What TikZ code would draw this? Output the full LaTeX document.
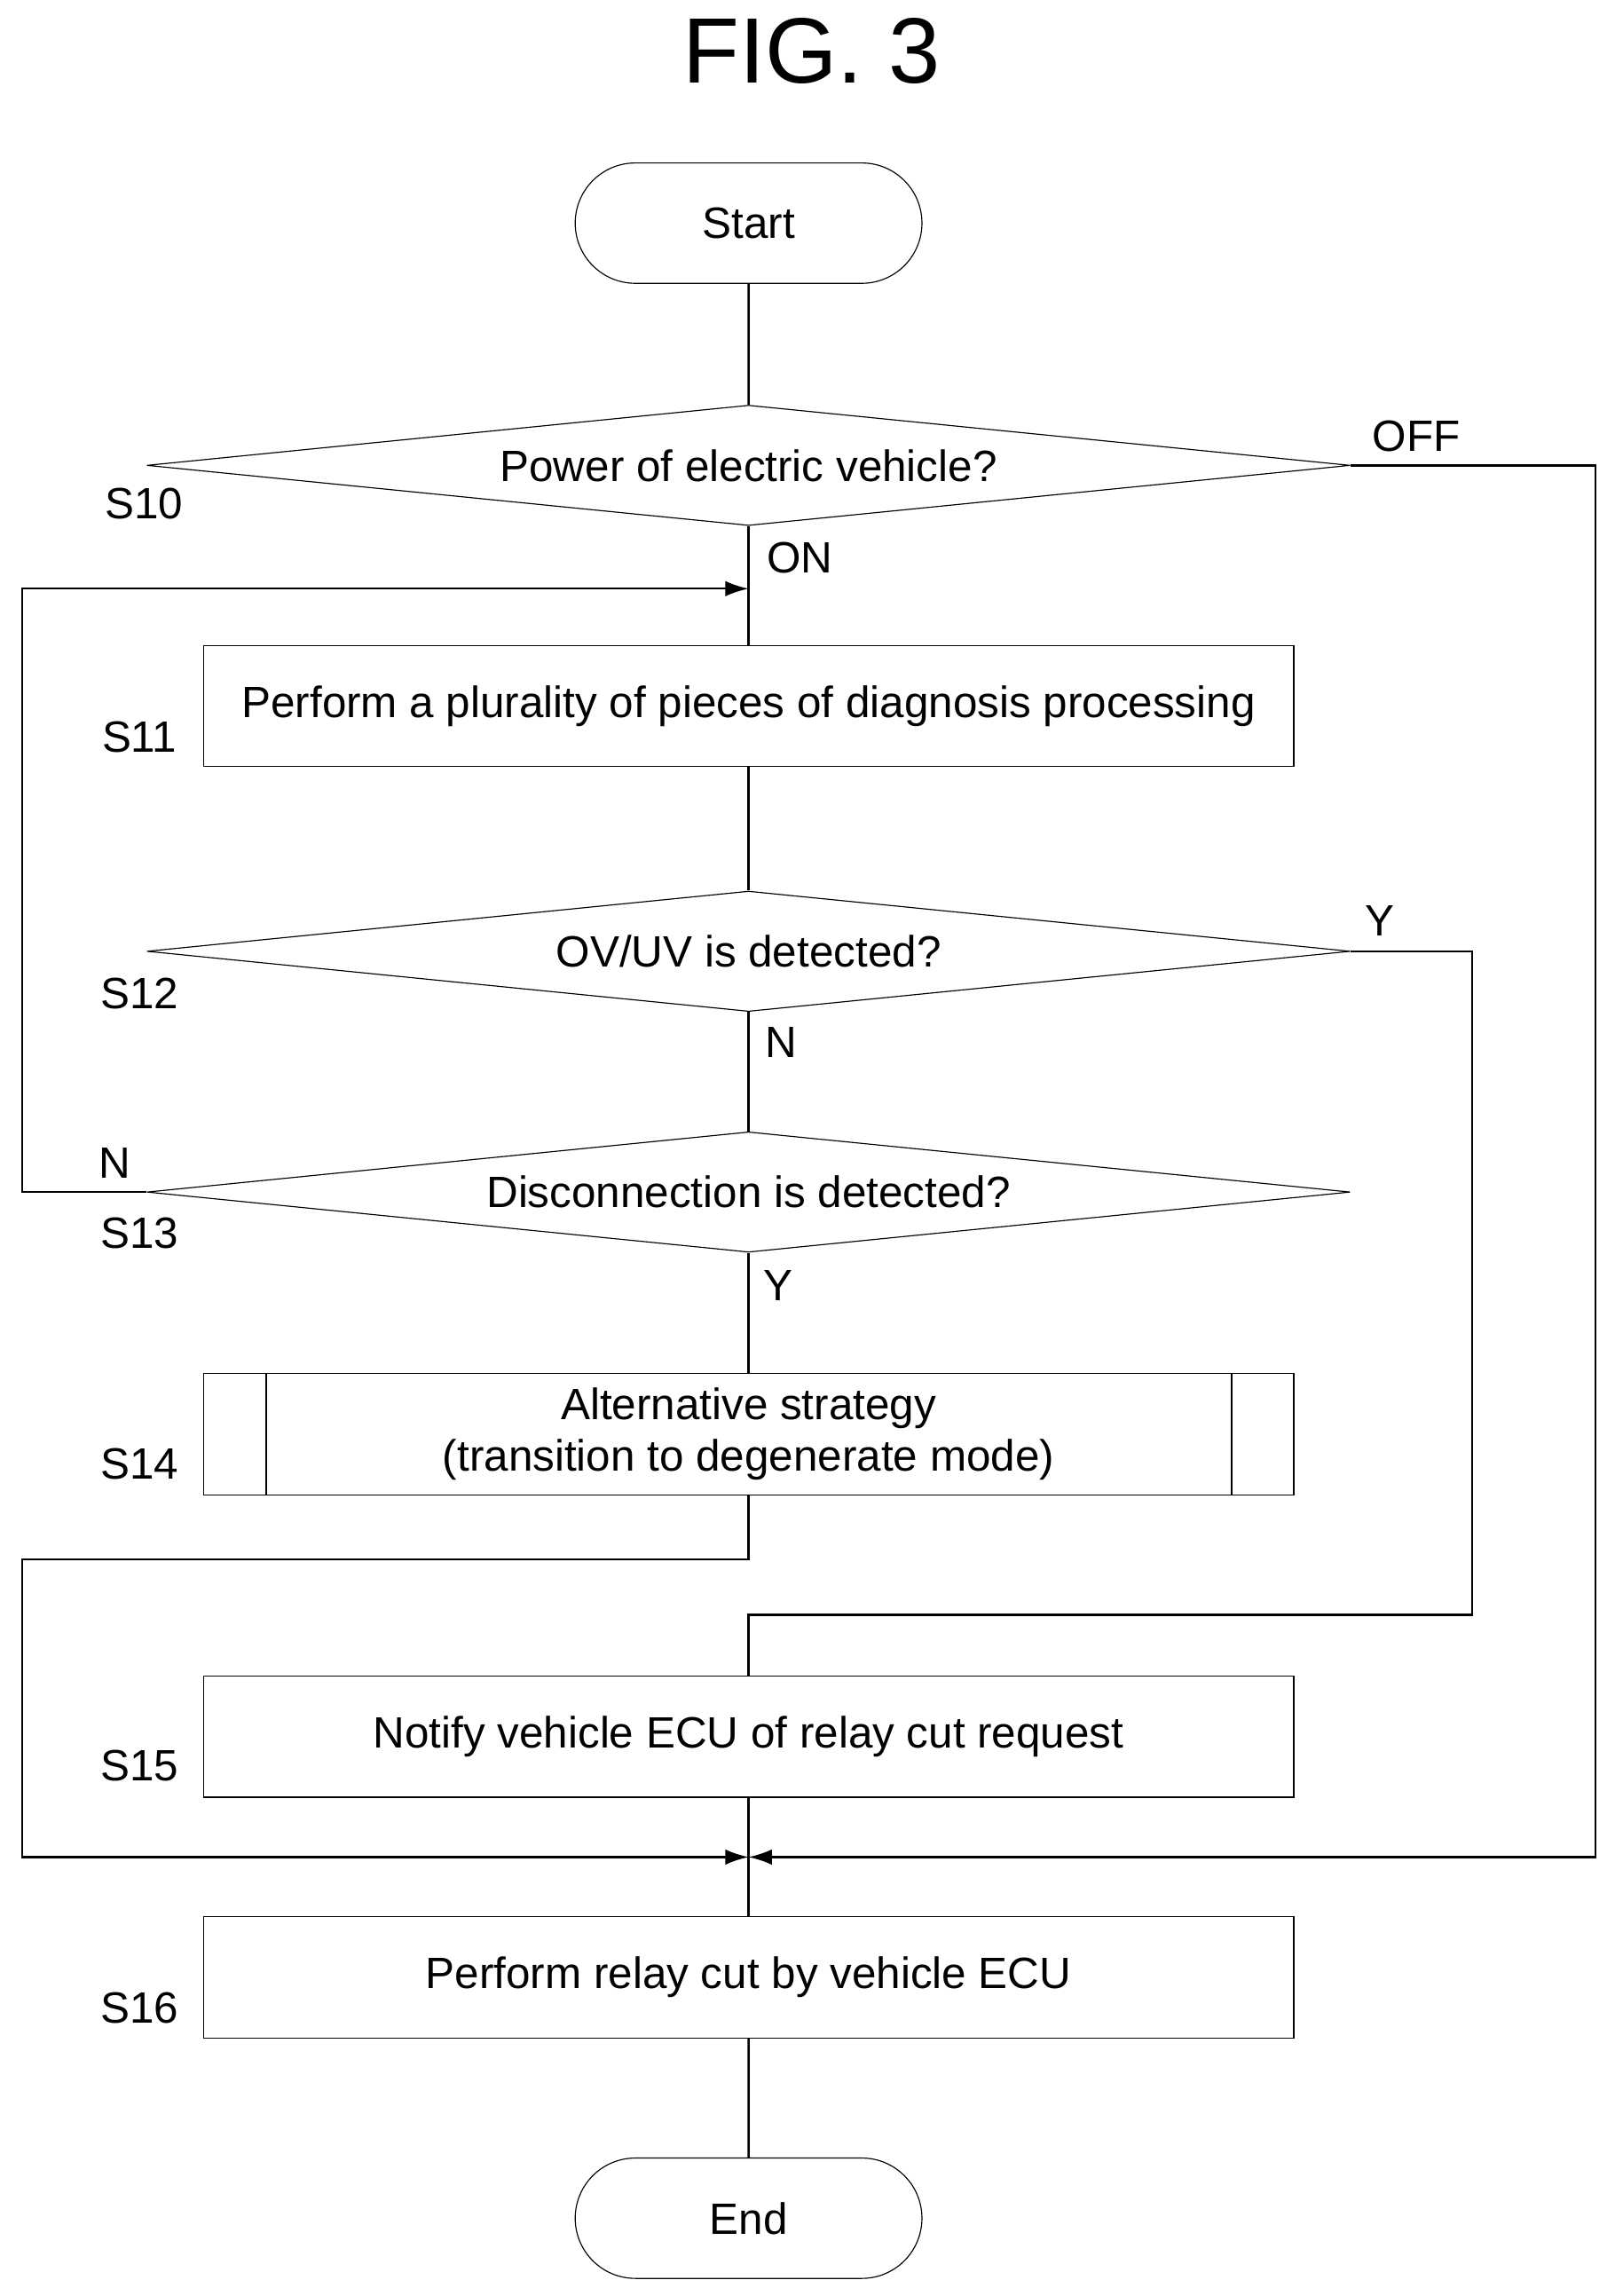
\documentclass[tikz,border=0pt]{standalone}
\usepackage{fontspec}
\setmainfont{Liberation Sans}
\usetikzlibrary{shapes.geometric,shapes.misc,arrows.meta}
\begin{document}
\begin{tikzpicture}[x=0.02cm,y=-0.02cm,
  every node/.style={font=\fontsize{17}{20}\selectfont},
  term/.style={draw,rounded rectangle,minimum width=4.96cm,minimum height=1.64cm},
  proc/.style={draw,rectangle,minimum width=14.86cm,minimum height=1.65cm,align=center},
  dec/.style={draw,diamond,aspect=10,inner sep=0pt,minimum width=16.4cm,minimum height=1.64cm},
  steplbl/.style={anchor=center},
  flow/.style={line width=0.8pt},
  arr/.style={flow,-{Latex[length=9pt,width=6pt]}}]
\useasboundingbox (0,0) rectangle (1100,1564);
\node[font=\fontsize{36}{40}\selectfont] (title) at (553,35) {FIG. 3};
\node[term] (start) at (510,152) {Start};
\node[dec] (s10) at (510,317) {Power of electric vehicle?};
\node[proc] (s11) at (510,481) {Perform a plurality of pieces of diagnosis processing};
\node[dec] (s12) at (510,648) {OV/UV is detected?};
\node[dec] (s13) at (510,812) {Disconnection is detected?};
\node[proc] (s14) at (510,977) {Alternative strategy\\(transition to degenerate mode)};
\node[proc] (s15) at (510,1183) {Notify vehicle ECU of relay cut request};
\node[proc] (s16) at (510,1347) {Perform relay cut by vehicle ECU};
\node[term] (end) at (510,1511) {End};
% step labels
\node[steplbl] (l10) at (98,343) {S10};
\node[steplbl] (l11) at (95,502) {S11};
\node[steplbl] (l12) at (95,677) {S12};
\node[steplbl] (l13) at (95,840) {S13};
\node[steplbl] (l14) at (95,997) {S14};
\node[steplbl] (l15) at (95,1203) {S15};
\node[steplbl] (l16) at (95,1368) {S16};
% branch labels
\node (off) at (965,297) {OFF};
\node (on) at (545,380) {ON};
\node (y12) at (940,627) {Y};
\node (n12) at (532,710) {N};
\node (n13) at (78,792) {N};
\node (y13) at (530,876) {Y};
% inner bars of subroutine box
\draw[flow] ([xshift=0.86cm]s14.north west) -- ([xshift=0.86cm]s14.south west);
\draw[flow] ([xshift=-0.85cm]s14.north east) -- ([xshift=-0.85cm]s14.south east);
\coordinate (merge) at (510,1265);
\coordinate (loop) at (510,401);
\draw[flow] (start) -- (s10);
\draw[flow] (s10) -- (s11);
\draw[arr] (s13.west) -- (15,812) -- (15,401) -- (loop);
\draw[flow] (s11) -- (s12);
\draw[flow] (s12) -- (s13);
\draw[flow] (s13) -- (s14);
\draw[flow] (s12.east) -- (1003,648) -- (1003,1100) -- (510,1100) -- (s15.north);
\draw[arr] (s14.south) -- (510,1062) -- (15,1062) -- (15,1265) -- (merge);
\draw[arr] (s10.east) -- (1087,317) -- (1087,1265) -- (merge);
\draw[flow] (s15) -- (s16);
\draw[flow] (s16) -- (end);
\end{tikzpicture}
\end{document}
